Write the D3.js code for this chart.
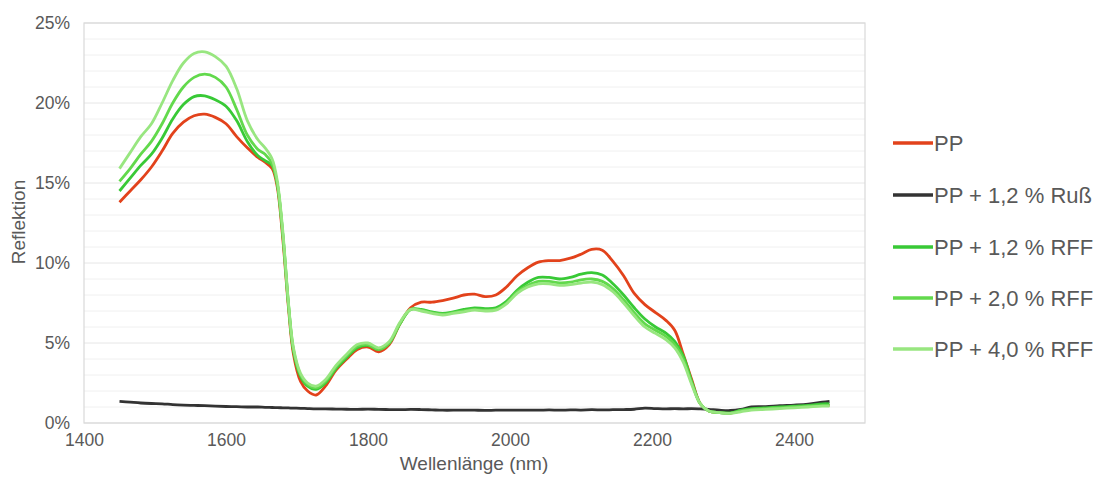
<!DOCTYPE html>
<html>
<head>
<meta charset="utf-8">
<script src="https://cdn.jsdelivr.net/npm/d3@7"></script>
<style>
  html, body { margin: 0; padding: 0; background: #fff; }
  svg { display: block; font-family: "Liberation Sans", Arial, sans-serif; }
</style>
</head>
<body>
<svg id="chart" width="1104" height="487"></svg>
<script>
// ---- data ----
const wavelengths = [
  1450, 1465, 1480, 1495, 1510, 1525, 1540, 1555, 1570, 1585,
  1600, 1615, 1630, 1645, 1655, 1665, 1672, 1680, 1688, 1695,
  1705, 1715, 1727, 1740, 1755, 1770, 1785, 1800, 1815, 1830,
  1845, 1860, 1875, 1890, 1905, 1920, 1935, 1950, 1965, 1980,
  1995, 2010, 2025, 2040, 2055, 2070, 2085, 2100, 2115, 2130,
  2145, 2160, 2175, 2190, 2205, 2220, 2232, 2244, 2256, 2268,
  2280, 2295, 2310, 2325, 2340, 2360, 2380, 2400, 2420, 2440,
  2450
];
const ppValues = [
  13.8, 14.5, 15.2, 16.0, 17.0, 18.1, 18.8, 19.2, 19.3, 19.1,
  18.7, 17.9, 17.2, 16.6, 16.3, 15.9, 14.8, 11.5, 7.2, 4.3,
  2.6, 2.0, 1.75, 2.3, 3.3, 4.0, 4.6, 4.75, 4.45, 4.9,
  6.2, 7.2, 7.55, 7.55, 7.65, 7.8, 8.0, 8.05, 7.9, 8.0,
  8.5, 9.2, 9.7, 10.05, 10.15, 10.15, 10.3, 10.55, 10.85, 10.8,
  10.1, 9.2, 8.1, 7.4, 6.9, 6.4, 5.8, 4.3, 2.7, 1.2,
  0.75, 0.65, 0.62, 0.75, 0.9, 0.95, 1.0, 1.05, 1.1, 1.15,
  1.1
];
const russValues = [
  1.35, 1.3, 1.25, 1.22, 1.2, 1.15, 1.12, 1.1, 1.08, 1.05,
  1.03, 1.02, 1.0, 1.0, 0.98, 0.97, 0.96, 0.95, 0.94, 0.93,
  0.92, 0.9, 0.88, 0.88, 0.87, 0.86, 0.85, 0.87, 0.85, 0.84,
  0.83, 0.85, 0.84, 0.82, 0.8, 0.8, 0.81, 0.8, 0.79, 0.8,
  0.8, 0.8, 0.81, 0.8, 0.82, 0.8, 0.82, 0.81, 0.83, 0.82,
  0.83, 0.84, 0.86, 0.93, 0.9, 0.88, 0.9, 0.88, 0.9, 0.88,
  0.85, 0.8, 0.78, 0.85, 1.0, 1.02, 1.08, 1.12, 1.18, 1.3,
  1.35
];
const rff12Values = [
  14.5, 15.3, 16.1, 16.8, 17.8, 19.0, 19.9, 20.4, 20.45, 20.2,
  19.8, 18.9, 17.6, 16.7, 16.4, 16.1, 15.0, 11.8, 7.4, 4.5,
  2.9, 2.3, 2.1, 2.5, 3.4, 4.1, 4.7, 4.85, 4.6, 5.0,
  6.2, 7.1, 7.1, 6.95, 6.85, 6.95, 7.1, 7.2, 7.15, 7.2,
  7.6, 8.3, 8.8, 9.1, 9.1, 9.0, 9.1, 9.3, 9.4, 9.25,
  8.7, 8.0, 7.2, 6.5, 6.0, 5.6, 5.1, 4.2, 2.6, 1.2,
  0.75, 0.65, 0.62, 0.8, 0.9, 0.95, 1.0, 1.05, 1.1, 1.2,
  1.2
];
const rff20Values = [
  15.1, 15.9, 16.8, 17.6, 18.7, 20.0, 21.0, 21.6, 21.8, 21.6,
  21.0, 19.6, 18.0, 17.1, 16.8, 16.2, 15.0, 11.8, 7.4, 4.6,
  3.0, 2.4, 2.2, 2.6, 3.5, 4.2, 4.8, 4.9, 4.6, 5.0,
  6.2, 7.1, 7.05, 6.9, 6.8, 6.9, 7.0, 7.1, 7.05, 7.1,
  7.5, 8.2, 8.6, 8.85, 8.85, 8.75, 8.8, 8.95, 9.0, 8.85,
  8.4, 7.7, 6.9, 6.2, 5.8, 5.4, 4.9, 4.0, 2.5, 1.2,
  0.75, 0.65, 0.62, 0.75, 0.85, 0.9, 0.95, 1.0, 1.05, 1.1,
  1.1
];
const rff40Values = [
  15.9, 16.9, 17.9, 18.7, 20.0, 21.4, 22.5, 23.1, 23.2, 22.9,
  22.3, 20.9, 18.9, 17.7, 17.2, 16.5, 15.2, 12.0, 7.5, 4.7,
  3.1, 2.5, 2.3, 2.7, 3.6, 4.3, 4.9, 5.0, 4.7, 5.1,
  6.3, 7.1, 7.0, 6.85, 6.75, 6.85, 6.95, 7.05, 7.0, 7.05,
  7.45, 8.1, 8.5, 8.7, 8.7, 8.6, 8.65, 8.75, 8.8, 8.65,
  8.2, 7.5, 6.7, 6.0, 5.6, 5.2, 4.7, 3.8, 2.4, 1.2,
  0.75, 0.65, 0.6, 0.7, 0.8, 0.85, 0.9, 0.95, 1.0, 1.05,
  1.05
];
const seriesNames = ["PP", "PP + 1,2 % Ruß", "PP + 1,2 % RFF", "PP + 2,0 % RFF", "PP + 4,0 % RFF"];
const seriesColors = ["#e2421b", "#333333", "#38c936", "#62d94c", "#98e680"];
const xTicks = [1400, 1600, 1800, 2000, 2200, 2400];
const yTicks = [0, 5, 10, 15, 20, 25];
const yMinorTicks = d3.range(0, 26, 1);
const xTitle = "Wellenlänge (nm)";
const yTitle = "Reflektion";

// ---- drawing ----
const svg = d3.select("#chart");
const plot = { left: 84, right: 865, top: 23, bottom: 423 };
const x = d3.scaleLinear().domain([1400, 2500]).range([plot.left, plot.right]);
const y = d3.scaleLinear().domain([0, 25]).range([plot.bottom, plot.top]);
const textColor = "#595959";

// minor + major gridlines
svg.append("g").selectAll("line").data(yMinorTicks.filter(v => v % 5 !== 0)).join("line")
  .attr("x1", plot.left).attr("x2", plot.right)
  .attr("y1", d => y(d)).attr("y2", d => y(d))
  .attr("stroke", "#f0f0f0").attr("stroke-width", 1);
svg.append("g").selectAll("line").data(yTicks).join("line")
  .attr("x1", plot.left).attr("x2", plot.right)
  .attr("y1", d => y(d)).attr("y2", d => y(d))
  .attr("stroke", "#e6e6e6").attr("stroke-width", 1);

// plot border
svg.append("rect")
  .attr("x", plot.left).attr("y", plot.top)
  .attr("width", plot.right - plot.left).attr("height", plot.bottom - plot.top)
  .attr("fill", "none").attr("stroke", "#d9d9d9").attr("stroke-width", 1.2);

// axes
const yAxis = d3.axisLeft(y).tickValues(yTicks).tickFormat(d => d + "%").tickSize(0).tickPadding(14);
const gy = svg.append("g").attr("transform", `translate(${plot.left},0)`).call(yAxis);
gy.select(".domain").remove();
gy.selectAll("text").attr("fill", textColor).style("font-size", "17.5px");

const xAxis = d3.axisBottom(x).tickValues(xTicks).tickFormat(d3.format("d")).tickSize(0).tickPadding(11);
const gx = svg.append("g").attr("transform", `translate(0,${plot.bottom})`).call(xAxis);
gx.select(".domain").remove();
gx.selectAll("text").attr("fill", textColor).style("font-size", "17.5px");

// axis titles
svg.append("text").attr("x", 474).attr("y", 470)
  .attr("text-anchor", "middle").attr("fill", textColor).style("font-size", "19px").text(xTitle);
svg.append("text").attr("transform", "translate(25,222) rotate(-90)")
  .attr("text-anchor", "middle").attr("fill", textColor).style("font-size", "19px").text(yTitle);

// lines
const allValues = [ppValues, russValues, rff12Values, rff20Values, rff40Values];
const line = d3.line()
  .x((d, i) => x(wavelengths[i]))
  .y(d => y(d))
  .curve(d3.curveCatmullRom.alpha(0.5));
svg.append("g").selectAll("path").data(allValues).join("path")
  .attr("d", d => line(d))
  .attr("fill", "none")
  .attr("stroke", (d, i) => seriesColors[i])
  .attr("stroke-width", 2.8)
  .attr("stroke-linejoin", "round");

// legend
const legendRowY = [143, 195, 247, 298, 349];
const lg = svg.append("g").selectAll("g").data(seriesNames).join("g")
  .attr("transform", (d, i) => `translate(893,${legendRowY[i]})`);
lg.append("line").attr("x1", 0).attr("x2", 40).attr("y1", 0).attr("y2", 0)
  .attr("stroke", (d, i) => seriesColors[i]).attr("stroke-width", 3.5);
lg.append("text").attr("x", 41).attr("y", 0).attr("dy", "0.36em")
  .attr("fill", textColor).style("font-size", "22px").text(d => d);
</script>
</body>
</html>
